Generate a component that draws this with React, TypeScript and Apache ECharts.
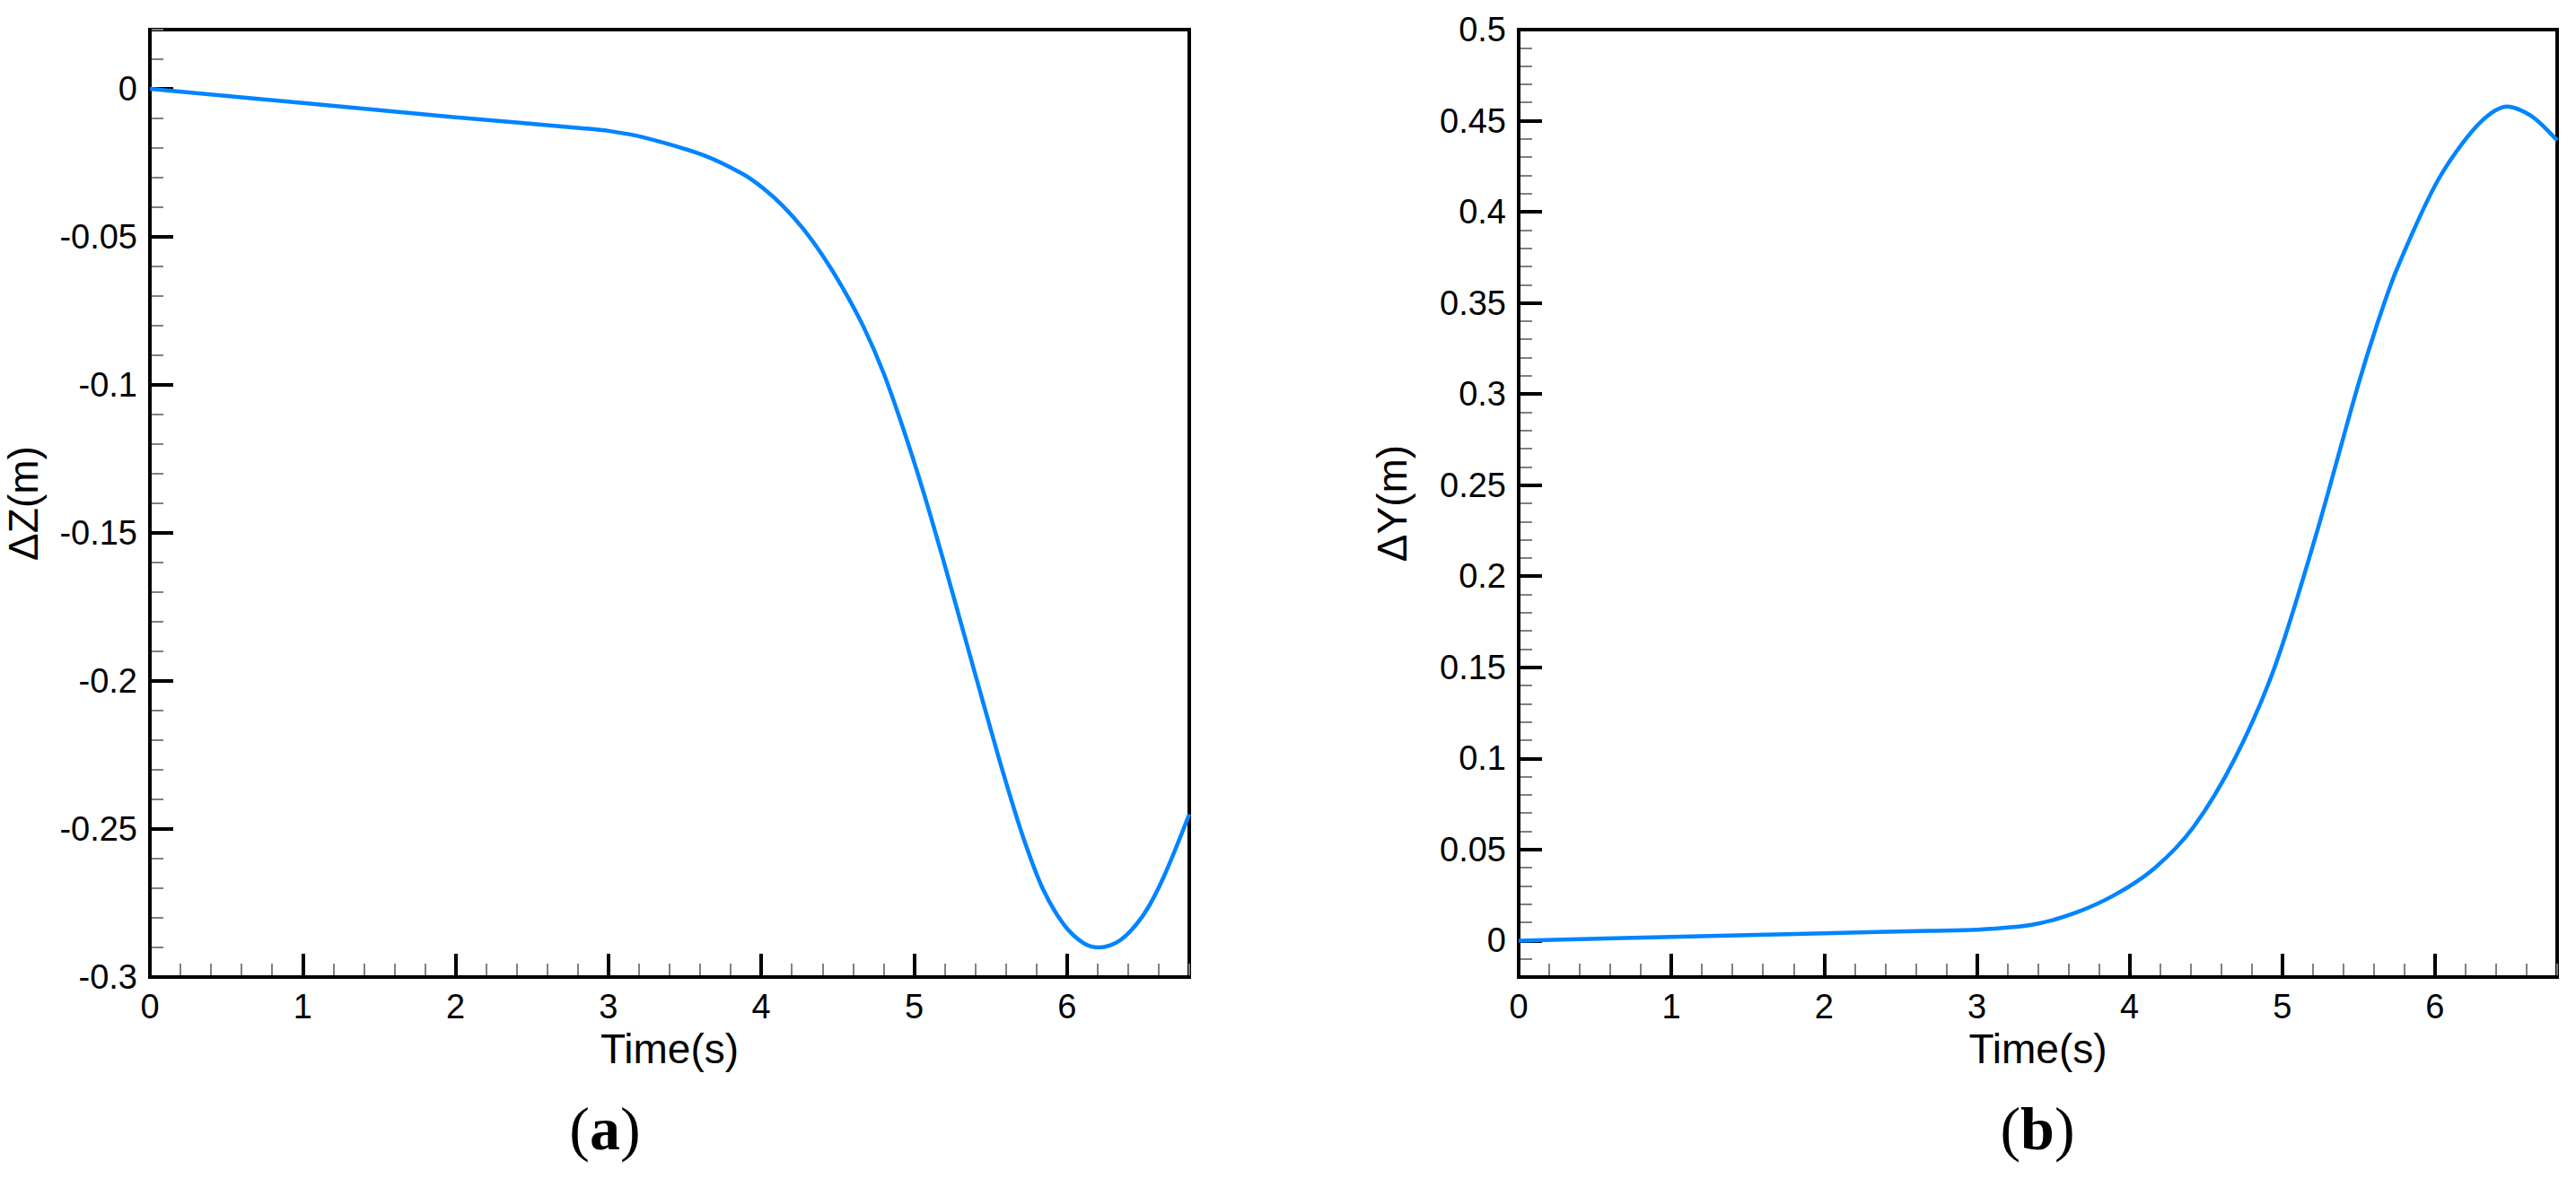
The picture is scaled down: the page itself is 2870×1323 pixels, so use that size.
import React, { useEffect, useRef } from "react";
import * as echarts from "echarts";

// ---- data ----
const timeA = [0, 1, 2, 2.83, 3.0, 3.23, 3.62, 3.88, 4.01, 4.14, 4.27, 4.4, 4.53, 4.67, 4.8, 4.93, 5.06, 5.19, 5.32, 5.45, 5.58, 5.71, 5.84, 5.98, 6.11, 6.21, 6.35, 6.5, 6.63, 6.8];
const deltaZ = [0, -0.0048, -0.0096, -0.0133, -0.0142, -0.0164, -0.0224, -0.0288, -0.0335, -0.0395, -0.047, -0.0562, -0.067, -0.0805, -0.096, -0.115, -0.136, -0.159, -0.183, -0.207, -0.2306, -0.2523, -0.27, -0.2823, -0.2886, -0.29, -0.2875, -0.279, -0.2665, -0.245];

const timeB = [0, 1, 2, 2.69, 3.0, 3.36, 3.62, 3.89, 4.16, 4.42, 4.69, 4.95, 5.22, 5.49, 5.62, 5.75, 6.02, 6.28, 6.47, 6.63, 6.8];
const deltaY = [0, 0.002, 0.004, 0.0054, 0.006, 0.0087, 0.0145, 0.0245, 0.0395, 0.0625, 0.1, 0.15, 0.2223, 0.303, 0.338, 0.3685, 0.4174, 0.4477, 0.4578, 0.4527, 0.4392];

const xTicks = [0, 1, 2, 3, 4, 5, 6];
const zTicks = [-0.3, -0.25, -0.2, -0.15, -0.1, -0.05, 0];
const yTicks = [0, 0.05, 0.1, 0.15, 0.2, 0.25, 0.3, 0.35, 0.4, 0.45, 0.5];

const FONT = "'Liberation Sans', Arial, sans-serif";
const SERIF = "'Liberation Serif', 'Times New Roman', serif";

function minorAxis(gridIndex: number, min: number, max: number, interval: number, position: string) {
  return {
    type: "value",
    gridIndex,
    position,
    min,
    max,
    interval,
    axisLine: { show: false, onZero: false },
    axisLabel: { show: false },
    splitLine: { show: false },
    axisTick: { show: true, inside: true, length: 15, lineStyle: { color: "#808080", width: 2 } },
    z: 1,
  };
}

function majorAxis(gridIndex: number, min: number, max: number, ticks: number[], position: string, name: string, nameGap: number, nameSize: number) {
  return {
    type: "value",
    gridIndex,
    position,
    min,
    max,
    name,
    nameLocation: "middle",
    nameGap,
    nameTextStyle: { fontFamily: FONT, fontSize: nameSize, color: "#000" },
    axisLine: { show: true, onZero: false, lineStyle: { color: "#000", width: 4 } },
    axisTick: { show: true, inside: true, length: 26, customValues: ticks, lineStyle: { color: "#000", width: 4 } },
    axisLabel: { show: true, customValues: ticks, margin: 14, fontFamily: FONT, fontSize: 38, color: "#000" },
    splitLine: { show: false },
    z: 2,
  };
}

function label(letter: string, x: number, y: number) {
  return {
    type: "text",
    x,
    y,
    style: {
      text: "{n|(}{b|" + letter + "}{n|)}",
      align: "center",
      verticalAlign: "middle",
      rich: {
        n: { fontFamily: SERIF, fontSize: 68, fill: "#000" },
        b: { fontFamily: SERIF, fontSize: 68, fontWeight: "bold", fill: "#000" },
      },
    },
  };
}

export default function App() {
  const ref = useRef<HTMLDivElement>(null);
  useEffect(() => {
    document.body.style.margin = "0";
    const chart = echarts.init(ref.current!, null, { renderer: "svg" });
    const lineColor = "#0084ff";
    chart.setOption({
      animation: false,
      backgroundColor: "#fff",
      grid: [
        { left: 167, top: 33, width: 1158, height: 1056, show: true, borderColor: "#000", borderWidth: 4, backgroundColor: "transparent" },
        { left: 1692, top: 33, width: 1157, height: 1056, show: true, borderColor: "#000", borderWidth: 4, backgroundColor: "transparent" },
      ],
      xAxis: [
        minorAxis(0, 0, 6.8, 0.2, "bottom"),
        majorAxis(0, 0, 6.8, xTicks, "bottom", "Time(s)", 41, 46),
        minorAxis(1, 0, 6.8, 0.2, "bottom"),
        majorAxis(1, 0, 6.8, xTicks, "bottom", "Time(s)", 41, 46),
      ],
      yAxis: [
        minorAxis(0, -0.3, 0.02, 0.01, "left"),
        majorAxis(0, -0.3, 0.02, zTicks, "left", "ΔZ(m)", 118, 46),
        minorAxis(1, -0.02, 0.5, 0.01, "left"),
        majorAxis(1, -0.02, 0.5, yTicks, "left", "ΔY(m)", 118, 46),
      ],
      series: [
        {
          type: "line",
          xAxisIndex: 1,
          yAxisIndex: 1,
          data: timeA.map((t, i) => [t, deltaZ[i]]),
          showSymbol: false,
          smooth: 0.3,
          lineStyle: { color: lineColor, width: 4.5 },
          z: 3,
        },
        {
          type: "line",
          xAxisIndex: 3,
          yAxisIndex: 3,
          data: timeB.map((t, i) => [t, deltaY[i]]),
          showSymbol: false,
          smooth: 0.3,
          lineStyle: { color: lineColor, width: 4.5 },
          z: 3,
        },
      ],
      graphic: [label("a", 674, 1258), label("b", 2270, 1258)],
    });
    return () => chart.dispose();
  }, []);
  return <div ref={ref} style={{ width: 2870, height: 1323 }} />;
}
